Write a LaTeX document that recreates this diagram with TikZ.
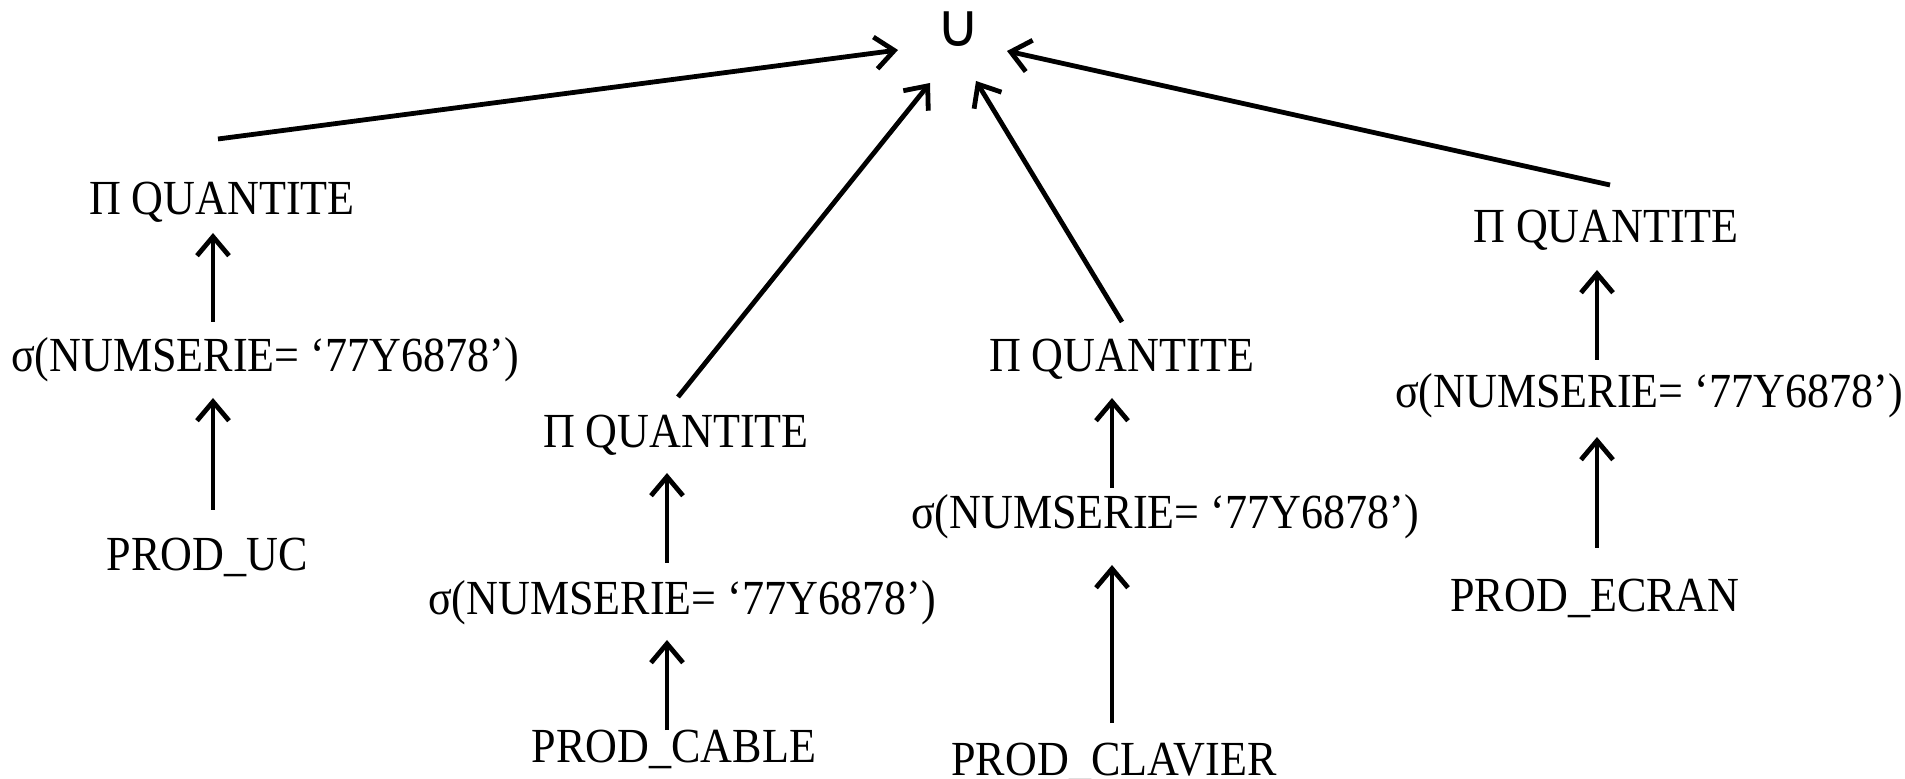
\documentclass[tikz,border=0pt]{standalone}
\usepackage{fontspec}
\setmainfont[FakeStretch=0.9]{Liberation Serif}
\newfontfamily\symfont{DejaVu Sans}
\usetikzlibrary{arrows.meta,calc}
\tikzset{
  lbl/.style={anchor=base, inner sep=0pt, font=\fontsize{24.5}{28}\selectfont},
  arr/.style={line width=2.4pt, -{Straight Barb[length=9.5pt,width=16pt]}}
}
\begin{document}
\begin{tikzpicture}[x=0.5pt,y=-0.5pt]
\clip (0,0) rectangle (1905,779);
\node[inner sep=0pt, font=\symfont\fontsize{30}{32}\selectfont] (U) at (958,29) {∪};
% column 1
\node[lbl] (p1) at (222,215) {Π QUANTITE};
\node[lbl] (s1) at (265,372) {σ(NUMSERIE= ‘77Y6878’)};
\node[lbl] (u1) at (207,571) {PROD\_UC};
% column 2
\node[lbl] (p2) at (676,448) {Π QUANTITE};
\node[lbl] (s2) at (682,615) {σ(NUMSERIE= ‘77Y6878’)};
\node[lbl] (u2) at (674,762) {PROD\_CABLE};
% column 3
\node[lbl] (p3) at (1122,372) {Π QUANTITE};
\node[lbl] (s3) at (1165,529) {σ(NUMSERIE= ‘77Y6878’)};
\node[lbl] (u3) at (1114,775) {PROD\_CLAVIER};
% column 4
\node[lbl] (p4) at (1606,243) {Π QUANTITE};
\node[lbl] (s4) at (1649,408) {σ(NUMSERIE= ‘77Y6878’)};
\node[lbl] (u4) at (1595,612) {PROD\_ECRAN};
% vertical arrows
\draw[arr] ($(u1.base)+(6,-61)$) -- ($(s1.base)+(-52,26)$);
\draw[arr] ($(s1.base)+(-52,-50)$) -- ($(p1.base)+(-9,18)$);
\draw[arr] ($(u2.base)+(-7,-32)$) -- ($(s2.base)+(-15,25)$);
\draw[arr] ($(s2.base)+(-15,-52)$) -- ($(p2.base)+(-9,25)$);
\draw[arr] ($(u3.base)+(-2,-52)$) -- ($(s3.base)+(-53,36)$);
\draw[arr] ($(s3.base)+(-53,-41)$) -- ($(p3.base)+(-10,26)$);
\draw[arr] ($(u4.base)+(2,-64)$) -- ($(s4.base)+(-52,29)$);
\draw[arr] ($(s4.base)+(-52,-48)$) -- ($(p4.base)+(-9,27)$);
% diagonal arrows to union
\draw[arr] ($(p1.base)+(-4,-76)$) -- ($(U.center)+(-60,21)$);
\draw[arr] ($(p2.base)+(2,-51)$) -- ($(U.center)+(-28,54)$);
\draw[arr] ($(p3.base)+(0,-50)$) -- ($(U.center)+(18,52)$);
\draw[arr] ($(p4.base)+(4,-58)$) -- ($(U.center)+(49,22)$);
\end{tikzpicture}
\end{document}
